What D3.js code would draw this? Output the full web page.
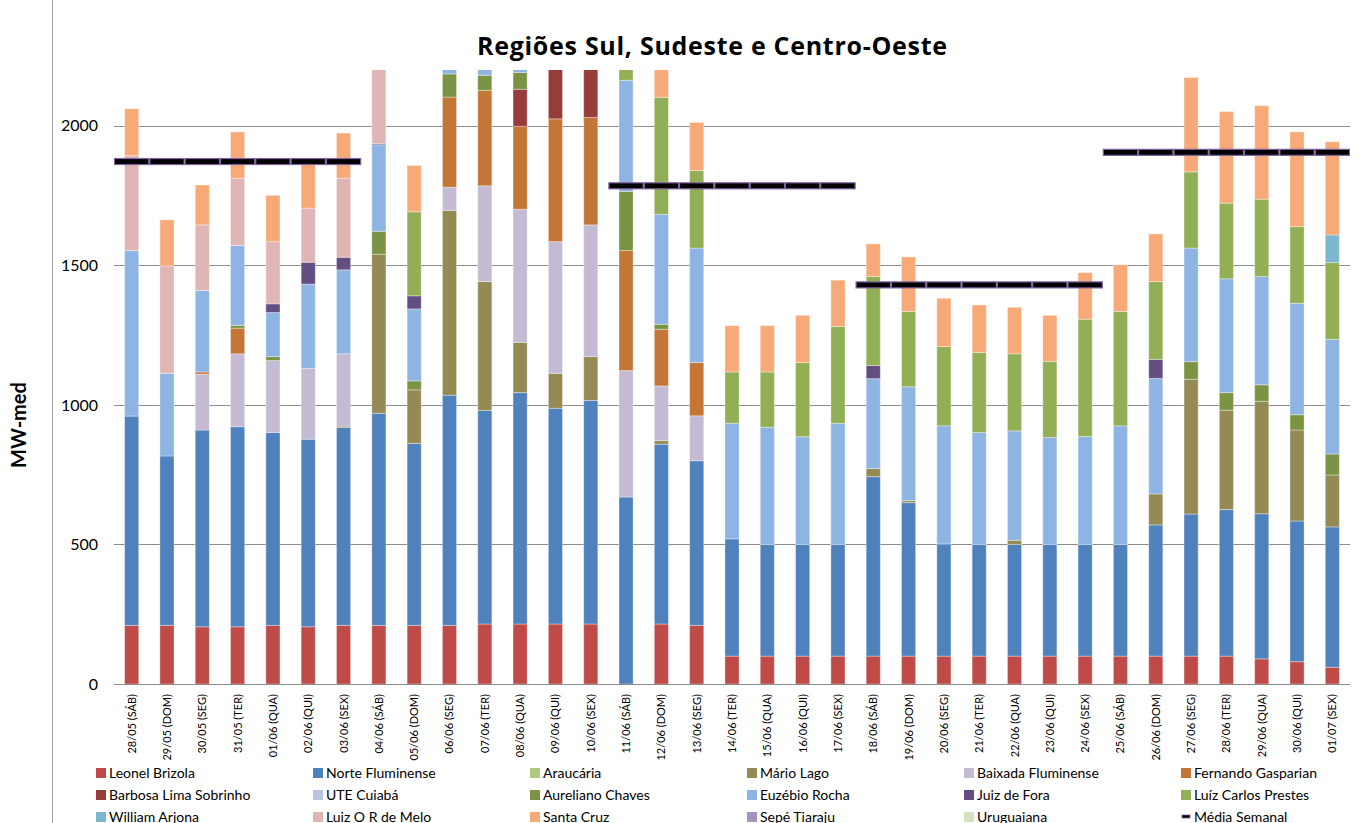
<!DOCTYPE html>
<html>
<head>
<meta charset="utf-8">
<script src="https://cdn.jsdelivr.net/npm/d3@7"></script>
<style>
	body { margin: 0; background: #fff; }
	svg { display: block; font-family: Lato, "Open Sans", sans-serif; }
</style>
</head>
<body>
<div id="chart"></div>
<script>
let days = ['28/05 (SÁB)', '29/05 (DOM)', '30/05 (SEG)', '31/05 (TER)', '01/06 (QUA)', '02/06 (QUI)', '03/06 (SEX)',
	'04/06 (SÁB)', '05/06 (DOM)', '06/06 (SEG)', '07/06 (TER)', '08/06 (QUA)', '09/06 (QUI)', '10/06 (SEX)',
	'11/06 (SÁB)', '12/06 (DOM)', '13/06 (SEG)', '14/06 (TER)', '15/06 (QUA)', '16/06 (QUI)', '17/06 (SEX)',
	'18/06 (SÁB)', '19/06 (DOM)', '20/06 (SEG)', '21/06 (TER)', '22/06 (QUA)', '23/06 (QUI)', '24/06 (SEX)',
	'25/06 (SÁB)', '26/06 (DOM)', '27/06 (SEG)', '28/06 (TER)', '29/06 (QUA)', '30/06 (QUI)', '01/07 (SEX)'];

// MW-med por usina, na ordem do empilhamento
let leonelBrizola		= [210, 210, 205, 205, 210, 205, 210, 210, 210, 210, 215, 215, 215, 215, 0, 215, 210, 100, 100, 100, 100, 100, 100, 100, 100, 100, 100, 100, 100, 100, 100, 100, 90, 80, 60];
let norteFluminense		= [750, 607, 705, 717, 691, 672, 709, 760, 652, 825, 765, 829, 773, 801, 670, 644, 590, 420, 400, 400, 400, 643, 550, 402, 400, 400, 400, 400, 400, 470, 509, 525, 520, 504, 503];
let araucaria			= new Array(35).fill(0);
let marioLago			= [0, 0, 0, 0, 0, 0, 5, 570, 192, 662, 462, 180, 125, 157, 0, 13, 0, 0, 0, 0, 0, 29, 7, 0, 0, 15, 0, 0, 0, 111, 483, 356, 403, 326, 186];
let baixadaFluminense	= [0, 0, 200, 261, 258, 254, 259, 0, 0, 83, 343, 477, 472, 472, 453, 196, 161, 0, 0, 0, 0, 0, 0, 0, 0, 0, 0, 0, 0, 0, 0, 0, 0, 0, 0];
let fernandoGasparian	= [0, 0, 8, 92, 0, 0, 0, 0, 0, 323, 342, 297, 440, 385, 430, 203, 191, 0, 0, 0, 0, 0, 0, 0, 0, 0, 0, 0, 0, 0, 0, 0, 0, 0, 0];
let barbosaLima			= [0, 0, 0, 0, 0, 0, 0, 0, 0, 0, 0, 133, 425, 420, 0, 0, 0, 0, 0, 0, 0, 0, 0, 0, 0, 0, 0, 0, 0, 0, 0, 0, 0, 0, 0];
let uteCuiaba			= new Array(35).fill(0);
let aurelianoChaves		= [0, 0, 0, 10, 14, 0, 0, 82, 32, 83, 54, 60, 0, 0, 212, 18, 0, 0, 0, 0, 0, 0, 0, 0, 0, 0, 0, 0, 0, 0, 63, 63, 59, 55, 75];
let euzebioRocha		= [593, 296, 292, 286, 158, 302, 301, 310, 258, 314, 319, 309, 0, 0, 398, 394, 410, 414, 420, 386, 434, 322, 408, 423, 401, 392, 383, 387, 425, 414, 407, 408, 388, 399, 411];
let juizDeFora			= [0, 0, 0, 0, 31, 78, 45, 4, 47, 0, 0, 0, 0, 0, 0, 0, 0, 0, 0, 0, 0, 47, 0, 0, 0, 0, 0, 0, 0, 68, 0, 0, 0, 0, 0];
let luizCarlosPrestes	= [0, 0, 0, 0, 0, 0, 0, 0, 301, 0, 0, 0, 0, 0, 240, 419, 278, 184, 198, 266, 347, 319, 270, 284, 287, 276, 273, 420, 410, 279, 273, 271, 277, 275, 275];
let williamArjona		= [0, 0, 0, 0, 0, 0, 0, 0, 0, 0, 0, 0, 0, 0, 0, 0, 0, 0, 0, 0, 0, 0, 0, 0, 0, 0, 0, 0, 0, 0, 0, 0, 0, 0, 99];
let luizORMelo			= [340, 385, 235, 241, 223, 194, 283, 364, 0, 0, 0, 0, 0, 0, 0, 0, 0, 0, 0, 0, 0, 0, 0, 0, 0, 0, 0, 0, 0, 0, 0, 0, 0, 0, 0];
let santaCruz			= [168, 165, 143, 166, 166, 160, 162, 0, 166, 0, 0, 0, 0, 0, 160, 480, 172, 166, 166, 169, 166, 117, 195, 173, 170, 167, 165, 167, 167, 171, 338, 328, 335, 339, 334];
let sepeTiaraju			= new Array(35).fill(0);
let uruguaiana			= new Array(35).fill(0);

// média semanal (uma por semana de 7 dias)
let mediaSemanal		= [1872, 2365, 1785, 1430, 1905];

let yTicks				= [0, 500, 1000, 1500, 2000];

let series = [
	{ name: 'Leonel Brizola',			values: leonelBrizola,		color: '#BE4B48' },
	{ name: 'Norte Fluminense',			values: norteFluminense,	color: '#4F81BD' },
	{ name: 'Araucária',				values: araucaria,			color: '#ADC97F' },
	{ name: 'Mário Lago',				values: marioLago,			color: '#948A54' },
	{ name: 'Baixada Fluminense',		values: baixadaFluminense,	color: '#C4BBD3' },
	{ name: 'Fernando Gasparian',		values: fernandoGasparian,	color: '#C47637' },
	{ name: 'Barbosa Lima Sobrinho',	values: barbosaLima,		color: '#963C3B' },
	{ name: 'UTE Cuiabá',				values: uteCuiaba,			color: '#B7C5E0' },
	{ name: 'Aureliano Chaves',			values: aurelianoChaves,	color: '#7A9443' },
	{ name: 'Euzébio Rocha',			values: euzebioRocha,		color: '#8EB4E3' },
	{ name: 'Juiz de Fora',				values: juizDeFora,			color: '#634E82' },
	{ name: 'Luíz Carlos Prestes',		values: luizCarlosPrestes,	color: '#93AF55' },
	{ name: 'William Arjona',			values: williamArjona,		color: '#7BB8CE' },
	{ name: 'Luiz O R de Melo',			values: luizORMelo,			color: '#E0B5B5' },
	{ name: 'Santa Cruz',				values: santaCruz,			color: '#F8A978' },
	{ name: 'Sepé Tiaraju',				values: sepeTiaraju,		color: '#A593BE' },
	{ name: 'Uruguaiana',				values: uruguaiana,			color: '#D4E1C1' }
];

let width	= 1359;
let height	= 823;
let plot	= { left: 114, right: 1350, top: 70, bottom: 684 };

let svg = d3.select('#chart').append('svg')
	.attr('width', width)
	.attr('height', height);

// borda esquerda da área do gráfico
svg.append('line')
	.attr('x1', 52.5).attr('x2', 52.5)
	.attr('y1', 0).attr('y2', height)
	.attr('stroke', '#A0A0A0');

let x = d3.scaleBand()
	.domain(days)
	.range([plot.left, plot.right])
	.padding(0);

let y = d3.scaleLinear()
	.domain([0, 2200])
	.range([plot.bottom, plot.top]);

let barW = x.step() * 0.4;

// grade
svg.append('g').selectAll('line').data(yTicks.filter(d => d > 0)).enter().append('line')
	.attr('x1', plot.left).attr('x2', plot.right)
	.attr('y1', d => Math.round(y(d)) + .5).attr('y2', d => Math.round(y(d)) + .5)
	.attr('stroke', '#8C8C8C');

let yAxis = svg.append('g')
	.attr('transform', 'translate(' + (plot.left - 16) + ',0)')
	.call(d3.axisLeft(y).tickValues(yTicks).tickFormat(d3.format('d')).tickSize(0).tickPadding(0));
yAxis.select('.domain').remove();
yAxis.selectAll('text')
	.style('font-family', 'Lato, sans-serif')
	.style('font-size', '16px')
	.attr('fill', '#000');

svg.append('defs').append('clipPath').attr('id', 'plot-clip')
	.append('rect')
		.attr('x', plot.left).attr('y', plot.top)
		.attr('width', plot.right - plot.left).attr('height', plot.bottom - plot.top);

let table = days.map((d, i) => {
	let row = { day: d };
	series.forEach(s => { row[s.name] = s.values[i]; });
	return row;
});

let stacked = d3.stack().keys(series.map(s => s.name))(table);

let bars = svg.append('g').attr('clip-path', 'url(#plot-clip)');

bars.selectAll('g.serie').data(stacked).enter().append('g')
	.attr('class', 'serie')
	.attr('fill', (o, i) => series[i].color)
	.selectAll('rect').data(o => o.filter(d => d[1] > d[0])).enter().append('rect')
		.attr('x', d => x(d.data.day) + (x.step() - barW) / 2)
		.attr('width', barW)
		.attr('y', d => y(d[1]))
		.attr('height', d => y(d[0]) - y(d[1]))
		.attr('stroke', 'rgba(255,255,255,0.35)')
		.attr('stroke-width', 1);

// eixo x
svg.append('line')
	.attr('x1', plot.left).attr('x2', plot.right)
	.attr('y1', plot.bottom + .5).attr('y2', plot.bottom + .5)
	.attr('stroke', '#8C8C8C');

svg.append('g').selectAll('text').data(days).enter().append('text')
	.attr('transform', d => 'translate(' + (x(d) + x.step() / 2 + 4) + ',' + (plot.bottom + 10) + ')rotate(-90)')
	.attr('text-anchor', 'end')
	.style('font-size', '11px')
	.text(d => d);

// média semanal: um marcador por dia
let mediaDia = days.map((d, i) => ({ day: d, value: mediaSemanal[Math.floor(i / 7)] }));

bars.append('g').selectAll('rect').data(mediaDia).enter().append('rect')
	.attr('x', d => x(d.day) + .5)
	.attr('width', x.step() - 1)
	.attr('y', d => y(d.value) - 3)
	.attr('height', 6)
	.attr('fill', '#000')
	.attr('stroke', '#7E62A0')
	.attr('stroke-width', 1.2);

// título
svg.append('text')
	.attr('x', 712).attr('y', 55)
	.attr('text-anchor', 'middle')
	.style('font-family', '"Open Sans", sans-serif')
	.style('font-size', '25px')
	.style('font-weight', 'bold')
	.attr('textLength', 470)
	.text('Regiões Sul, Sudeste e Centro-Oeste');

svg.append('text')
	.attr('transform', 'translate(26,' + 425 + ')rotate(-90)')
	.attr('text-anchor', 'middle')
	.style('font-size', '20px')
	.style('font-weight', 'bold')
	.text('MW-med');

// legenda
let legendItems = series.map(s => ({ name: s.name, color: s.color })).concat([{ name: 'Média Semanal', color: null }]);

let legend = svg.append('g').selectAll('g').data(legendItems).enter().append('g')
	.attr('transform', (o, i) => 'translate(' + (96 + (i % 6) * 217) + ',' + (773 + Math.floor(i / 6) * 22) + ')');

legend.filter(o => o.color).append('rect')
	.attr('x', 0).attr('y', -5)
	.attr('width', 10).attr('height', 10)
	.attr('fill', o => o.color);

legend.filter(o => !o.color).append('rect')
	.attr('x', 1).attr('y', -2)
	.attr('width', 8).attr('height', 3)
	.attr('fill', '#000')
	.attr('stroke', '#7E62A0')
	.attr('stroke-width', .8);

legend.append('text')
	.attr('x', 13).attr('y', 5)
	.style('font-size', '14px')
	.text(o => o.name);
</script>
</body>
</html>
